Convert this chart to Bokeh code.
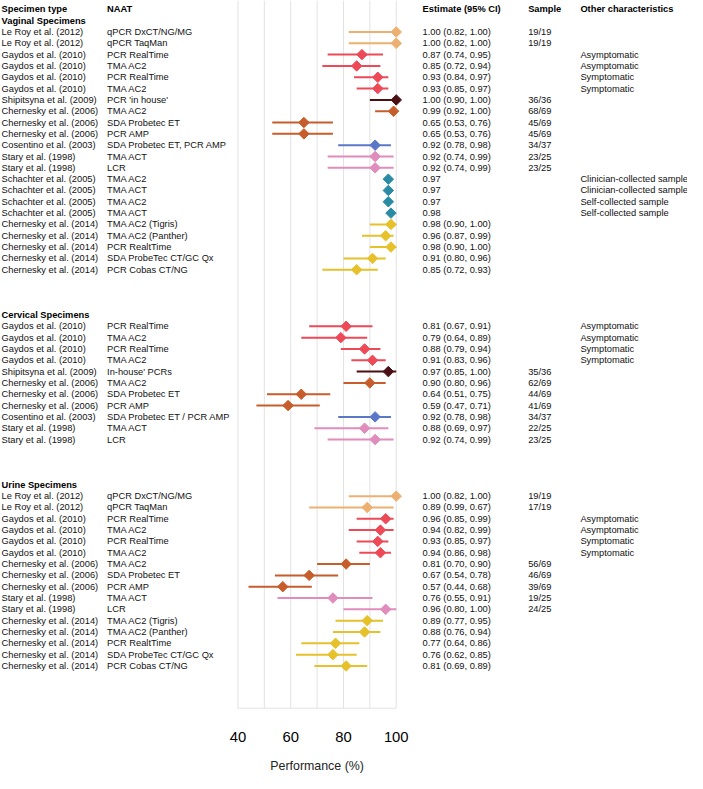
import math
from bokeh.plotting import figure
from bokeh.models import ColumnDataSource, Range1d
from bokeh.core.properties import value
from bokeh.embed import file_html
from bokeh.resources import INLINE

# ---------------- data ----------------
header_cols = ["Specimen type", "NAAT", "Estimate (95% CI)", "Sample", "Other characteristics"]
group_names = ["Vaginal Specimens", "Cervical Specimens", "Urine Specimens"]

vag_study = ["Le Roy et al. (2012)", "Le Roy et al. (2012)", "Gaydos et al. (2010)", "Gaydos et al. (2010)",
             "Gaydos et al. (2010)", "Gaydos et al. (2010)", "Shipitsyna et al. (2009)", "Chernesky et al. (2006)",
             "Chernesky et al. (2006)", "Chernesky et al. (2006)", "Cosentino et al. (2003)", "Stary et al. (1998)",
             "Stary et al. (1998)", "Schachter et al. (2005)", "Schachter et al. (2005)", "Schachter et al. (2005)",
             "Schachter et al. (2005)", "Chernesky et al. (2014)", "Chernesky et al. (2014)", "Chernesky et al. (2014)",
             "Chernesky et al. (2014)", "Chernesky et al. (2014)"]
vag_naat = ["qPCR DxCT/NG/MG", "qPCR TaqMan", "PCR RealTime", "TMA AC2", "PCR RealTime", "TMA AC2",
            "PCR 'in house'", "TMA AC2", "SDA Probetec ET", "PCR AMP", "SDA Probetec ET, PCR AMP", "TMA ACT",
            "LCR", "TMA AC2", "TMA ACT", "TMA AC2", "TMA ACT", "TMA AC2 (Tigris)", "TMA AC2 (Panther)",
            "PCR RealtTime", "SDA ProbeTec CT/GC Qx", "PCR Cobas CT/NG"]
vag_est = [1.00, 1.00, 0.87, 0.85, 0.93, 0.93, 1.00, 0.99, 0.65, 0.65, 0.92, 0.92, 0.92,
           0.97, 0.97, 0.97, 0.98, 0.98, 0.96, 0.98, 0.91, 0.85]
vag_ci1 = [0.82, 0.82, 0.74, 0.72, 0.84, 0.85, 0.90, 0.92, 0.53, 0.53, 0.78, 0.74, 0.74,
           None, None, None, None, 0.90, 0.87, 0.90, 0.80, 0.72]
vag_ci2 = [1.00, 1.00, 0.95, 0.94, 0.97, 0.97, 1.00, 1.00, 0.76, 0.76, 0.98, 0.99, 0.99,
           None, None, None, None, 1.00, 0.99, 1.00, 0.96, 0.93]
vag_sample = ["19/19", "19/19", "", "", "", "", "36/36", "68/69", "45/69", "45/69", "34/37", "23/25", "23/25",
              "", "", "", "", "", "", "", "", ""]
vag_other = ["", "", "Asymptomatic", "Asymptomatic", "Symptomatic", "Symptomatic", "", "", "", "", "", "", "",
             "Clinician-collected sample", "Clinician-collected sample", "Self-collected sample",
             "Self-collected sample", "", "", "", "", ""]

cer_study = ["Gaydos et al. (2010)", "Gaydos et al. (2010)", "Gaydos et al. (2010)", "Gaydos et al. (2010)",
             "Shipitsyna et al. (2009)", "Chernesky et al. (2006)", "Chernesky et al. (2006)",
             "Chernesky et al. (2006)", "Cosentino et al. (2003)", "Stary et al. (1998)", "Stary et al. (1998)"]
cer_naat = ["PCR RealTime", "TMA AC2", "PCR RealTime", "TMA AC2", "In-house' PCRs", "TMA AC2",
            "SDA Probetec ET", "PCR AMP", "SDA Probetec ET / PCR AMP", "TMA ACT", "LCR"]
cer_est = [0.81, 0.79, 0.88, 0.91, 0.97, 0.90, 0.64, 0.59, 0.92, 0.88, 0.92]
cer_ci1 = [0.67, 0.64, 0.79, 0.83, 0.85, 0.80, 0.51, 0.47, 0.78, 0.69, 0.74]
cer_ci2 = [0.91, 0.89, 0.94, 0.96, 1.00, 0.96, 0.75, 0.71, 0.98, 0.97, 0.99]
cer_sample = ["", "", "", "", "35/36", "62/69", "44/69", "41/69", "34/37", "22/25", "23/25"]
cer_other = ["Asymptomatic", "Asymptomatic", "Symptomatic", "Symptomatic", "", "", "", "", "", "", ""]

uri_study = ["Le Roy et al. (2012)", "Le Roy et al. (2012)", "Gaydos et al. (2010)", "Gaydos et al. (2010)",
             "Gaydos et al. (2010)", "Gaydos et al. (2010)", "Chernesky et al. (2006)", "Chernesky et al. (2006)",
             "Chernesky et al. (2006)", "Stary et al. (1998)", "Stary et al. (1998)", "Chernesky et al. (2014)",
             "Chernesky et al. (2014)", "Chernesky et al. (2014)", "Chernesky et al. (2014)",
             "Chernesky et al. (2014)"]
uri_naat = ["qPCR DxCT/NG/MG", "qPCR TaqMan", "PCR RealTime", "TMA AC2", "PCR RealTime", "TMA AC2",
            "TMA AC2", "SDA Probetec ET", "PCR AMP", "TMA ACT", "LCR", "TMA AC2 (Tigris)",
            "TMA AC2 (Panther)", "PCR RealtTime", "SDA ProbeTec CT/GC Qx", "PCR Cobas CT/NG"]
uri_est = [1.00, 0.89, 0.96, 0.94, 0.93, 0.94, 0.81, 0.67, 0.57, 0.76, 0.96, 0.89, 0.88, 0.77, 0.76, 0.81]
uri_ci1 = [0.82, 0.99, 0.85, 0.82, 0.85, 0.86, 0.70, 0.54, 0.44, 0.55, 0.80, 0.77, 0.76, 0.64, 0.62, 0.69]
uri_ci2 = [1.00, 0.67, 0.99, 0.99, 0.97, 0.98, 0.90, 0.78, 0.68, 0.91, 1.00, 0.95, 0.94, 0.86, 0.85, 0.89]
uri_sample = ["19/19", "17/19", "", "", "", "", "56/69", "46/69", "39/69", "19/25", "24/25", "", "", "", "", ""]
uri_other = ["", "", "Asymptomatic", "Asymptomatic", "Symptomatic", "Symptomatic", "", "", "", "", "", "",
             "", "", "", ""]

study_colors = {
    "Le Roy et al. (2012)": "#EDB070",
    "Gaydos et al. (2010)": "#EE4957",
    "Shipitsyna et al. (2009)": "#4B0F14",
    "Chernesky et al. (2006)": "#C65D2B",
    "Cosentino et al. (2003)": "#5B78C8",
    "Stary et al. (1998)": "#E08CBD",
    "Schachter et al. (2005)": "#2A8CA4",
    "Chernesky et al. (2014)": "#E6C12A",
}

axis_ticks = [40, 60, 80, 100]
grid_ticks = [40, 50, 60, 70, 80, 90, 100]
axis_title = "Performance (%)"

# ---------------- layout ----------------
W, H = 687, 773
FONT = value("Liberation Sans")
FS = value("9.3px")
X_STUDY, X_NAAT, X_EST, X_SAMPLE, X_OTHER = -49.6, -9.6, 110.0, 150.0, 169.8
GAP = 4

groups = [
    (vag_study, vag_naat, vag_est, vag_ci1, vag_ci2, vag_sample, vag_other),
    (cer_study, cer_naat, cer_est, cer_ci1, cer_ci2, cer_sample, cer_other),
    (uri_study, uri_naat, uri_est, uri_ci1, uri_ci2, uri_sample, uri_other),
]

rows = dict(y=[], study=[], naat=[], est=[], lo=[], hi=[], est_txt=[], sample=[], other=[], color=[])
group_y = []
k = 1
for gi, (st, na, es, c1, c2, sa, ot) in enumerate(groups):
    group_y.append(k)
    for i in range(len(st)):
        k += 1
        rows["y"].append(k)
        rows["study"].append(st[i])
        rows["naat"].append(na[i])
        rows["est"].append(es[i] * 100)
        if c1[i] is None:
            rows["lo"].append(float("nan"))
            rows["hi"].append(float("nan"))
            rows["est_txt"].append(f"{es[i]:.2f}")
        else:
            rows["lo"].append(c1[i] * 100)
            rows["hi"].append(c2[i] * 100)
            rows["est_txt"].append(f"{es[i]:.2f} ({c1[i]:.2f}, {c2[i]:.2f})")
        rows["sample"].append(sa[i])
        rows["other"].append(ot[i])
        rows["color"].append(study_colors[st[i]])
    k += GAP

src = ColumnDataSource(rows)

Y_TOP, Y_BOTTOM = -0.78, 67.5
PANEL_BOTTOM = 61.73
TICK_Y = 64.3
TITLE_Y = 66.8

p = figure(width=W, height=H, output_backend="svg", toolbar_location=None,
           x_range=Range1d(-50, 210.4), y_range=Range1d(Y_BOTTOM, Y_TOP),
           min_border=0, outline_line_color=None)
p.axis.visible = False
p.grid.visible = False
p.background_fill_color = "white"
p.border_fill_color = "white"

# panel grid
p.segment(x0=grid_ticks, x1=grid_ticks, y0=[Y_TOP] * len(grid_ticks), y1=[PANEL_BOTTOM] * len(grid_ticks),
          line_color="#E2E2E2", line_width=1)
p.segment(x0=[min(grid_ticks)], x1=[max(grid_ticks)], y0=[PANEL_BOTTOM], y1=[PANEL_BOTTOM],
          line_color="#E2E2E2", line_width=1)

# CIs and estimates
p.segment(x0="lo", x1="hi", y0="y", y1="y", line_color="color", line_width=2, source=src)
p.scatter(x="est", y="y", marker="square", angle=math.pi / 4, size=7.4, fill_color="color",
          line_color="color", source=src)

# column headers
hx = [X_STUDY, X_NAAT, X_EST, X_SAMPLE, X_OTHER]
p.text(x=hx, y=[0] * 5, text=header_cols, text_font=FONT, text_font_size=FS, text_font_style="bold",
       text_baseline="middle", text_align="left", text_color="black")
p.text(x=[X_STUDY] * len(group_names), y=group_y, text=group_names, text_font=FONT, text_font_size=FS,
       text_font_style="bold", text_baseline="middle", text_align="left", text_color="black")

for col, xpos in [("study", X_STUDY), ("naat", X_NAAT), ("est_txt", X_EST), ("sample", X_SAMPLE),
                  ("other", X_OTHER)]:
    p.text(x=xpos, y="y", text=col, source=src, text_font=FONT, text_font_size=FS,
           text_baseline="middle", text_align="left", text_color="#111111")

# axis tick labels and title
p.text(x=axis_ticks, y=[TICK_Y] * len(axis_ticks), text=[str(t) for t in axis_ticks], text_font=FONT,
       text_font_size=value("14.8px"), text_baseline="middle", text_align="center", text_color="black")
p.text(x=[(min(grid_ticks) + max(grid_ticks)) / 2], y=[TITLE_Y], text=[axis_title], text_font=FONT,
       text_font_size=value("12.4px"), text_baseline="middle", text_align="center", text_color="#222222")

open("out.html", "w").write(file_html(p, INLINE))
